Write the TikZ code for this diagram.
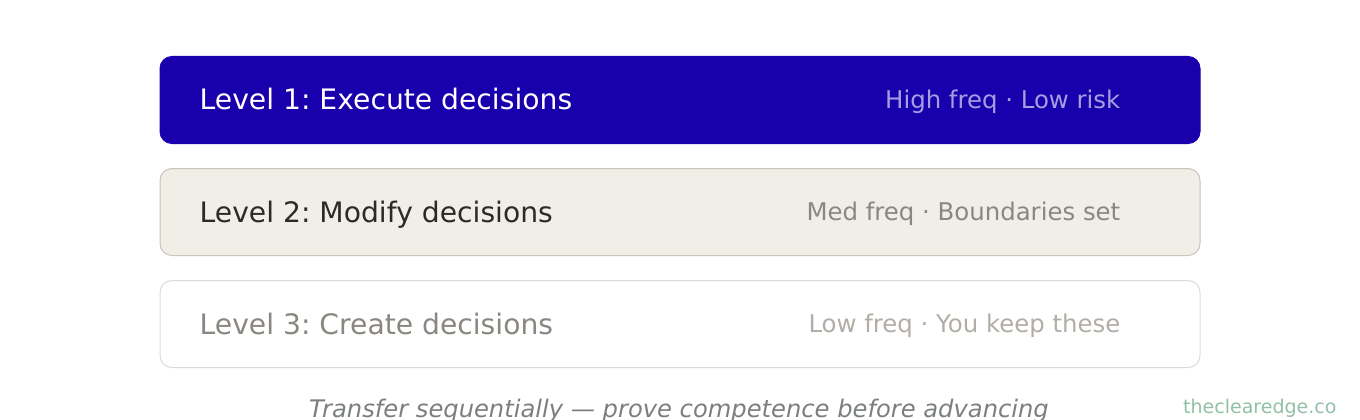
\documentclass[tikz,border=0pt]{standalone}
\usepackage{fontspec}
\setmainfont{DejaVu Sans}
\usepackage{tikz}
\usetikzlibrary{positioning}
\usepackage{xcolor}
\frenchspacing
\definecolor{deepblue}{HTML}{1A00AC}
\definecolor{lavender}{HTML}{A79EE0}
\definecolor{sand}{HTML}{F1EEE7}
\definecolor{sandedge}{HTML}{C9C3BA}
\definecolor{paleedge}{HTML}{DEDBD5}
\definecolor{inkdark}{HTML}{2B2A28}
\definecolor{inkmid}{HTML}{8A8680}
\definecolor{inklight}{HTML}{B2ADA6}
\definecolor{notegray}{HTML}{7B807B}
\definecolor{markgreen}{HTML}{92BFA7}

\begin{document}
\begin{tikzpicture}[x=1pt, y=-1pt,
    bar/.style={rounded corners=12pt, minimum width=1040pt, minimum height=87pt, inner sep=0pt, line width=1pt},
    levelname/.style={anchor=base west, font=\fontsize{28.2}{32}\selectfont, inner sep=0pt},
    levelnote/.style={anchor=base east, font=\fontsize{24.4}{28}\selectfont, inner sep=0pt}]

    \useasboundingbox (0,0) rectangle (1360,420);

    % Levels
    \foreach \i/\y/\fillc/\edgec/\mainc/\sidec/\name/\note in {
        1/100/deepblue/deepblue/white/lavender/{Level 1: Execute decisions}/{High freq · Low risk},
        2/212/sand/sandedge/inkdark/inkmid/{Level 2: Modify decisions}/{Med freq · Boundaries set},
        3/324/white/paleedge/inkmid/inklight/{Level 3: Create decisions}/{Low freq · You keep these}} {
        \node[bar, fill=\fillc, draw=\edgec] (bar\i) at (680,\y) {};
        \node[levelname, text=\mainc] (name\i) at ([xshift=40pt, yshift=-10pt]bar\i.west) {\name};
        \node[levelnote, text=\sidec] (note\i) at ([xshift=-80pt, yshift=-8.5pt]bar\i.east) {\note};
    }

    % Footer
    \node[font=\fontsize{24.2}{28}\selectfont\itshape, text=notegray] (footer) at (679,411) {Transfer sequentially — prove competence before advancing};
    \node[font=\fontsize{19}{22}\selectfont, text=markgreen, anchor=east] (mark) at (1340,408) {theclearedge.co};

\end{tikzpicture}
\end{document}
